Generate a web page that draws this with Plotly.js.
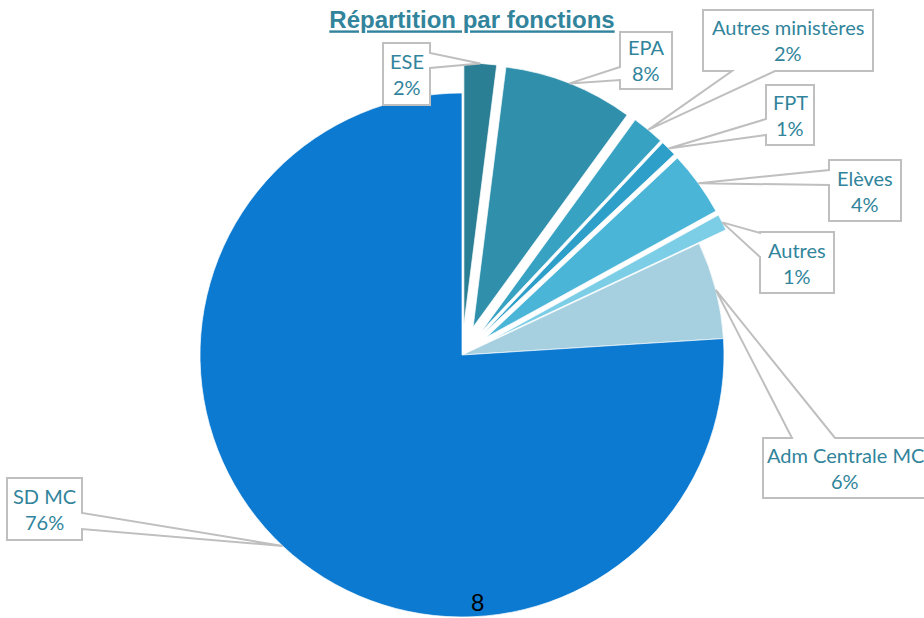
<!DOCTYPE html>
<html><head><meta charset="utf-8">
<script src="https://cdn.plot.ly/plotly-3.0.1.min.js"></script>
<style>html,body{margin:0;padding:0;overflow:hidden;background:#fff}#chart{width:924px;height:700px}</style>
</head><body><div id="chart"></div>
<script>
// ---- data ----
const labels = ['ESE', 'EPA', 'Autres ministères', 'FPT', 'Elèves', 'Autres', 'Adm Centrale MC', 'SD MC'];
const values = [2, 8, 2, 1, 4, 1, 6, 76];
const chartTitle = 'Répartition par fonctions';
const pageNumber = '8';

// ---- style ----
const colors = ['#2B7F94', '#3090AC', '#37A2C2', '#2E9FC8', '#4BB5D8', '#7CCDE6', '#A6CFDF', '#0C7AD0'];
const pulls = [0.115, 0.115, 0.115, 0.115, 0.115, 0.115, 0, 0];
const textColor = '#31849B';
const W = 924, H = 700;
const CX = 462, CY = 355, R = 262;
const maxPull = Math.max.apply(null, pulls);
const half = R * (1 + maxPull);

// callout boxes (pixel layout): [x0,y0,x1,y1], pointer side, pointer base, optional text centre x
const callouts = [
  {box: [383, 43, 430, 105], side: 'right', base: [53, 68]},
  {box: [620, 32, 672, 89], side: 'left', base: [67, 80]},
  {box: [703, 10, 873, 71], side: 'bottom', base: [732, 775]},
  {box: [766, 85, 814, 145], side: 'left', base: [119, 135]},
  {box: [829, 160, 901, 221], side: 'left', base: [170, 185]},
  {box: [760, 232, 834, 293], side: 'left', base: [233, 257]},
  {box: [763, 438, 935, 498], side: 'top', base: [792, 835], tx: 845},
  {box: [7, 478, 82, 540], side: 'right', base: [513, 529]}
];

const px = (x) => x / W;
const py = (y) => 1 - y / H;
const P = (x, y) => px(x).toFixed(5) + ',' + py(y).toFixed(5);

function calloutPath(c, tip) {
  const [x0, y0, x1, y1] = c.box;
  const [a, b] = c.base;
  let pts;
  if (c.side === 'right') pts = [[x0, y0], [x1, y0], [x1, a], tip, [x1, b], [x1, y1], [x0, y1]];
  else if (c.side === 'left') pts = [[x0, y0], [x1, y0], [x1, y1], [x0, y1], [x0, b], tip, [x0, a]];
  else if (c.side === 'bottom') pts = [[x0, y0], [x1, y0], [x1, y1], [b, y1], tip, [a, y1], [x0, y1]];
  else pts = [[x0, y0], [a, y0], tip, [b, y0], [x1, y0], [x1, y1], [x0, y1]];
  return 'M ' + pts.map(p => P(p[0], p[1])).join(' L ') + ' Z';
}

function buildDecor(tips) {
  const shapes = [], annotations = [];
  callouts.forEach((c, i) => {
    shapes.push({type: 'path', xref: 'paper', yref: 'paper', path: calloutPath(c, tips[i]),
      fillcolor: '#FFFFFF', line: {color: '#BFBFBF', width: 2}, layer: 'above'});
    const mx = c.tx || (c.box[0] + c.box[2]) / 2, my = (c.box[1] + c.box[3]) / 2;
    [labels[i], values[i] + '%'].forEach((t, k) => {
      annotations.push({xref: 'paper', yref: 'paper', x: px(mx), y: py(my + (k ? 13 : -13)),
        text: t, showarrow: false, xanchor: 'center', yanchor: 'middle',
        font: {family: 'Lato, "Open Sans", sans-serif', size: 20, color: textColor}});
    });
  });
  annotations.push({xref: 'paper', yref: 'paper', x: px(477), y: py(602), text: pageNumber,
    showarrow: false, xanchor: 'center', yanchor: 'middle',
    font: {family: 'Liberation Sans, Arial, sans-serif', size: 24, color: '#000000'}});
  return {shapes, annotations};
}

function fallbackTips() {
  const total = values.reduce((s, v) => s + v, 0);
  let cum = 0;
  return values.map((v, i) => {
    const mid = 2 * Math.PI * (cum + v / 2) / total; cum += v;
    const rr = R * (1 + pulls[i]);
    return [CX + rr * Math.sin(mid), CY - rr * Math.cos(mid)];
  });
}

const trace = {
  type: 'pie', labels: labels, values: values, sort: false, direction: 'clockwise', rotation: 0,
  pull: pulls, textinfo: 'none', hoverinfo: 'none', showlegend: false,
  marker: {colors: colors, line: {color: 'rgba(255,255,255,0.7)', width: 1}},
  domain: {x: [px(CX - half), px(CX + half)], y: [py(CY + half), py(CY - half)]}
};

const layout = {
  width: W, height: H, margin: {l: 0, r: 0, t: 0, b: 0},
  paper_bgcolor: '#FFFFFF', plot_bgcolor: '#FFFFFF', showlegend: false,
  title: {text: '<b><u>' + chartTitle + '</u></b>', x: px(472), xanchor: 'center', y: py(20), yanchor: 'middle',
    font: {family: 'Liberation Sans, Arial, sans-serif', size: 24, color: textColor}}
};
Object.assign(layout, buildDecor(fallbackTips()));

Plotly.newPlot('chart', [trace], layout, {staticPlot: true}).then(gd => {
  try {
    const cd = gd.calcdata[0];
    const cd0 = cd[0];
    if (cd0 && cd0.r && cd[0].pxmid) {
      const tips = cd.map((pt, i) => [cd0.cx + pt.pxmid[0] * (1 + pulls[i]), cd0.cy + pt.pxmid[1] * (1 + pulls[i])]);
      Plotly.relayout(gd, buildDecor(tips));
    }
  } catch (e) {}
});
</script>
</body></html>
